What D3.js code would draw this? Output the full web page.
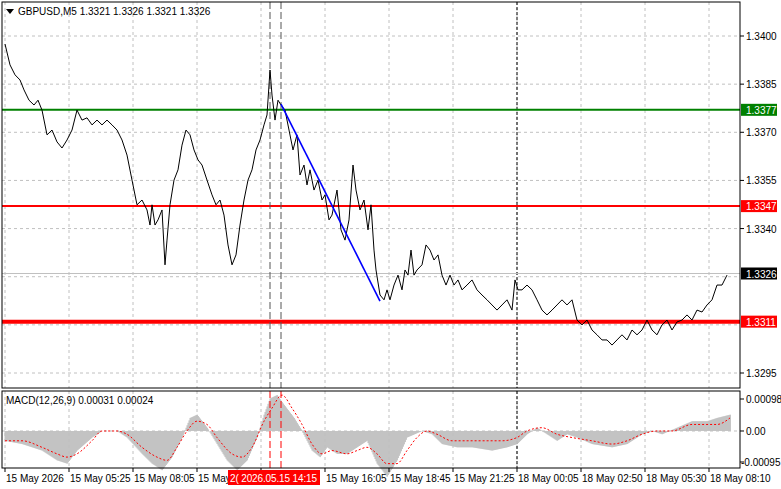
<!DOCTYPE html>
<html><head><meta charset="utf-8">
<script src="https://cdn.jsdelivr.net/npm/d3@7"></script>
<style>body{margin:0;background:#fff}svg{display:block;font-family:"Liberation Sans",Arial,sans-serif}</style>
</head><body><svg id="c" width="781" height="489"></svg>
<script>
const priceTicks=[1.3400,1.3385,1.3370,1.3355,1.3340,1.3325,1.3310,1.3295];
const priceTickLabels=["1.3400","1.3385","1.3370","1.3355","1.3340","","","1.3295"];
const timeLabels=["15 May 2026","15 May 05:25","15 May 08:05","15 May","","15 May 16:05","15 May 18:45","15 May 21:25","18 May 00:05","18 May 02:50","18 May 05:30","18 May 08:10"];
const timeLabelBars=[3,67,131,195,259,323,387,451,515,579,643,707];
const priceBars=[3,8,13,18,22,27,32,36,40,45,50,55,60,65,70,75,80,85,90,95,100,105,110,115,120,125,130,135,140,145,148,150,153,156,160,163,165,168,172,176,180,184,188,192,196,200,205,210,214,218,222,226,230,234,238,242,246,250,254,258,262,265,268,270,273,276,279,283,287,291,295,298,302,305,308,312,316,320,323,327,330,335,339,343,347,351,354,358,362,366,369,372,374,378,382,385,388,392,396,400,403,406,409,412,415,420,424,428,432,436,440,444,448,452,456,460,465,470,475,480,485,490,495,500,505,510,513,516,520,525,530,535,540,545,550,555,560,565,570,575,580,585,590,595,600,605,610,615,620,625,630,635,640,645,650,655,660,665,670,675,680,685,690,695,700,705,710,715,720,725];
const closes=[1.33975,1.33910,1.33879,1.33863,1.33832,1.33800,1.33785,1.33800,1.33769,1.33692,1.33707,1.33670,1.33651,1.33676,1.33707,1.33769,1.33738,1.33745,1.33723,1.33738,1.33723,1.33738,1.33723,1.33707,1.33676,1.33629,1.33551,1.33474,1.33489,1.33458,1.33411,1.33474,1.33411,1.33427,1.33458,1.33287,1.33364,1.33474,1.33551,1.33583,1.33660,1.33707,1.33692,1.33645,1.33614,1.33598,1.33551,1.33505,1.33474,1.33489,1.33442,1.33349,1.33287,1.33318,1.33411,1.33489,1.33551,1.33583,1.33645,1.33676,1.33723,1.33754,1.33894,1.33816,1.33738,1.33800,1.33785,1.33769,1.33707,1.33645,1.33692,1.33567,1.33598,1.33536,1.33583,1.33520,1.33551,1.33489,1.33505,1.33427,1.33442,1.33520,1.33396,1.33364,1.33427,1.33598,1.33520,1.33458,1.33489,1.33396,1.33474,1.33333,1.33271,1.33193,1.33178,1.33209,1.33178,1.33224,1.33255,1.33209,1.33271,1.33255,1.33333,1.33255,1.33271,1.33287,1.33349,1.33333,1.33302,1.33318,1.33255,1.33224,1.33255,1.33224,1.33240,1.33209,1.33224,1.33240,1.33209,1.33193,1.33178,1.33162,1.33146,1.33162,1.33178,1.33146,1.33240,1.33209,1.33209,1.33224,1.33209,1.33178,1.33146,1.33131,1.33146,1.33162,1.33178,1.33162,1.33178,1.33115,1.33100,1.33115,1.33084,1.33069,1.33053,1.33053,1.33037,1.33053,1.33069,1.33053,1.33084,1.33069,1.33084,1.33115,1.33084,1.33069,1.33100,1.33115,1.33084,1.33109,1.33115,1.33131,1.33115,1.33146,1.33140,1.33162,1.33178,1.33224,1.33224,1.33255];
const histBars=[3,20,40,55,65,75,90,100,115,125,140,150,160,170,180,188,195,205,215,225,235,245,255,262,268,275,282,292,300,310,318,325,335,345,355,365,375,385,395,405,420,430,440,455,470,490,505,515,525,535,545,555,565,575,590,610,625,640,650,660,675,690,705,715,728];
const histVals=[-3,-4,-6,-9,-10,-6,-2,0,0,-2,-7,-10,-12,-8,-2,4,5,1,-4,-9,-12,-9,-2,5,10,11,8,4,0,-6,-8,-5,-7,-7,-5,-3,-10,-14,-9,-2,0,-1,-4,-5,-5,-6,-5,-4,-1,1,-1,-3,-1,-2,-4,-5,-4,-1,0,-1,1,3,3,4,5].map(v=>v*1e-4);
const sigBars=[3,20,40,55,65,75,90,100,115,125,140,155,165,175,185,195,205,215,230,240,250,262,270,280,290,300,310,320,330,345,355,365,375,385,395,405,415,425,435,450,465,480,500,515,525,540,555,570,590,610,625,640,655,670,690,705,715,728];
const sigVals=[-3,-3,-5,-7,-8,-7,-3,0,0,-1,-5,-8,-9,-5,0,3,2,-2,-7,-8,-5,3,7,11,7,2,-4,-7,-6,-7,-6,-5,-7,-10,-10,-6,-2,0,-1,-3,-3,-3,-3,-2,0,1,-1,-2,-3,-4,-3,-1,0,0,2,2,2,4].map(v=>v*1e-4);
const levels=[{p:1.3377,c:"#008000",w:2,l:"1.3377"},{p:1.3347,c:"#ff0000",w:2,l:"1.3347"},{p:1.3311,c:"#ff0000",w:4,l:"1.3311"}];
const current=1.3326;
const trend=[{b:279,p:1.33788},{b:378,p:1.33174}];
const vlineBars=[268,279];
const sepBar=515;

const svg=d3.select("#c");
const L=2,R=740,T=2,B=388,MT=391,MB=468;
const x=d3.scaleLinear().domain([0,738]).range([L,R]);
const y=d3.scaleLinear().domain([1.3295,1.3400]).range([373,36]);
const ym=d3.scaleLinear().domain([-0.00095,0.00098]).range([462,399]);
const fs=10;
function grid(y0,y1){
  timeLabelBars.forEach(b=>svg.append("line").attr("x1",x(b)).attr("x2",x(b)).attr("y1",y0).attr("y2",y1).attr("stroke","#c0c0c0").attr("stroke-dasharray","3,3"));
}
grid(T,B);grid(MT,MB);
priceTicks.forEach(p=>svg.append("line").attr("x1",L).attr("x2",R).attr("y1",y(p)).attr("y2",y(p)).attr("stroke","#c0c0c0").attr("stroke-dasharray","3,3"));
svg.append("line").attr("x1",L).attr("x2",R).attr("y1",ym(0)).attr("y2",ym(0)).attr("stroke","#c0c0c0").attr("stroke-dasharray","3,3");
[[T,B],[MT,MB]].forEach(([a,b])=>svg.append("line").attr("x1",x(sepBar)).attr("x2",x(sepBar)).attr("y1",a).attr("y2",b).attr("stroke","#000").attr("stroke-dasharray","3,2"));
const bw=x(1)-x(0);
const hd=d3.range(3,729).map(b=>({b,v:d3.scaleLinear().domain(histBars).range(histVals)(b)}));
svg.append("g").selectAll("rect").data(hd).join("rect").attr("x",d=>x(d.b)-bw/2).attr("width",bw+0.4)
 .attr("y",d=>Math.min(ym(d.v),ym(0))).attr("height",d=>Math.abs(ym(d.v)-ym(0))).attr("fill","#c0c0c0");
svg.append("path").datum(sigBars.map((b,i)=>[b,sigVals[i]])).attr("d",d3.line().x(d=>x(d[0])).y(d=>ym(d[1])).curve(d3.curveMonotoneX))
 .attr("fill","none").attr("stroke","#ff0000").attr("stroke-dasharray","2,2");
svg.append("line").attr("x1",L).attr("x2",R).attr("y1",y(current)).attr("y2",y(current)).attr("stroke","#c0c0c0");
levels.forEach(l=>svg.append("line").attr("x1",L).attr("x2",R).attr("y1",y(l.p)).attr("y2",y(l.p)).attr("stroke",l.c).attr("stroke-width",l.w));
vlineBars.forEach(b=>{
 svg.append("line").attr("x1",x(b)).attr("x2",x(b)).attr("y1",T).attr("y2",B).attr("stroke","#555").attr("stroke-dasharray","7,3");
 svg.append("line").attr("x1",x(b)).attr("x2",x(b)).attr("y1",MT).attr("y2",MB).attr("stroke","#ff0000").attr("stroke-dasharray","7,3");
});
svg.append("path").datum(priceBars.map((b,i)=>[b,closes[i]])).attr("d",d3.line().x(d=>x(d[0])).y(d=>y(d[1])))
 .attr("fill","none").attr("stroke","#000").attr("stroke-width",1);
svg.append("line").attr("x1",x(trend[0].b)).attr("y1",y(trend[0].p)).attr("x2",x(trend[1].b)).attr("y2",y(trend[1].p)).attr("stroke","#0000ff").attr("stroke-width",1.6);
svg.append("rect").attr("x",L).attr("y",T).attr("width",R-L).attr("height",B-T).attr("fill","none").attr("stroke","#000");
svg.append("rect").attr("x",L).attr("y",MT).attr("width",R-L).attr("height",MB-MT).attr("fill","none").attr("stroke","#000");
priceTicks.forEach((p,i)=>{if(!priceTickLabels[i])return;
 svg.append("line").attr("x1",R).attr("x2",R+4).attr("y1",y(p)).attr("y2",y(p)).attr("stroke","#000");
 svg.append("text").attr("x",746).attr("y",y(p)+4).attr("font-size",fs).text(priceTickLabels[i]);});
levels.concat([{p:current,c:"#000",l:"1.3326"}]).forEach(l=>{
 svg.append("rect").attr("x",R+1).attr("y",y(l.p)-6).attr("width",36).attr("height",12).attr("fill",l.c);
 svg.append("text").attr("x",746).attr("y",y(l.p)+4).attr("font-size",fs).attr("fill","#fff").text(l.l);});
[[0.00098,"0.00098"],[0,"0.00"],[-0.00095,"-0.00095"]].forEach(([v,t])=>{
 svg.append("line").attr("x1",R).attr("x2",R+4).attr("y1",ym(v)).attr("y2",ym(v)).attr("stroke","#000");
 svg.append("text").attr("x",t[0]==="-"?741:746).attr("y",ym(v)+4).attr("font-size",fs).text(t);});
timeLabelBars.forEach((b,i)=>{
 svg.append("line").attr("x1",x(b)).attr("x2",x(b)).attr("y1",MB).attr("y2",MB+4).attr("stroke","#000");
 svg.append("text").attr("x",x(b)+1).attr("y",482).attr("font-size",fs).text(timeLabels[i]);});
svg.append("rect").attr("x",228).attr("y",470).attr("width",92).attr("height",15).attr("fill","#ff0000");
svg.append("text").attr("x",230).attr("y",482).attr("font-size",fs).attr("fill","#fff").attr("textLength",87).text("2( 2026.05.15 14:15");
svg.append("path").attr("d","M6,9 L14,9 L10,14 Z").attr("fill","#000");
svg.append("text").attr("x",18).attr("y",15).attr("font-size",fs).text("GBPUSD,M5  1.3321 1.3326 1.3321 1.3326");
svg.append("text").attr("x",6).attr("y",404).attr("font-size",fs).text("MACD(12,26,9) 0.00031 0.00024");
</script></body></html>
